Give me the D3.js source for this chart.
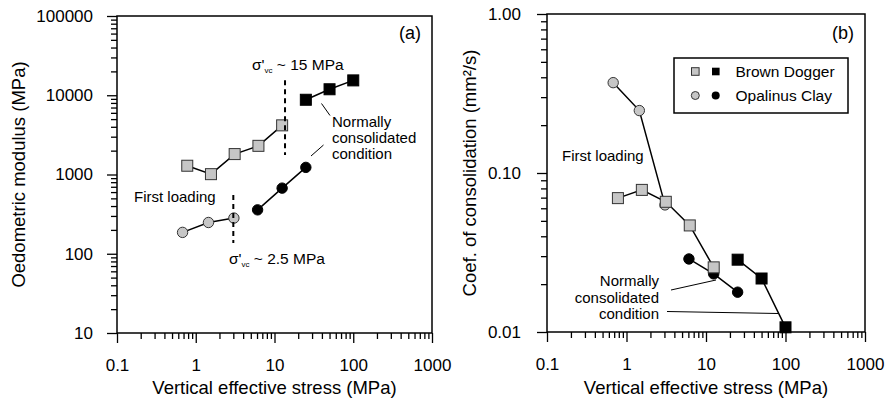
<!DOCTYPE html>
<html>
<head>
<meta charset="utf-8">
<script src="https://cdn.jsdelivr.net/npm/d3@7"></script>
<style>
  html, body { margin: 0; padding: 0; background: #fff; }
  svg { display: block; font-family: "Liberation Sans", Arial, sans-serif; }
</style>
</head>
<body>
<svg id="chart" width="893" height="402"></svg>
<script>
// ---------------- data ----------------
const xTickLabels = ["0.1", "1", "10", "100", "1000"];
const xTickValues = [0.1, 1, 10, 100, 1000];
const yTickLabelsA = ["10", "100", "1000", "10000", "100000"];
const yTickValuesA = [10, 100, 1000, 10000, 100000];
const yTickLabelsB = ["0.01", "0.10", "1.00"];
const yTickValuesB = [0.01, 0.1, 1];

const stressBDFirst = [0.78, 1.56, 3.12, 6.25, 12.5];
const stressBDNC = [25, 50, 100];
const stressOPAFirst = [0.68, 1.45, 3.05];
const stressOPANC = [6.1, 12.5, 25];

const modulusBDFirst = [1290, 1010, 1810, 2300, 4170];
const modulusBDNC = [8770, 11900, 15400];
const modulusOPAFirst = [186, 248, 282];
const modulusOPANC = [358, 673, 1230];

const cvBDFirst = [0.0695, 0.0783, 0.0659, 0.0468, 0.0255];
const cvBDNC = [0.0285, 0.0217, 0.0107];
const cvOPAFirst = [0.37, 0.247, 0.063];
const cvOPANC = [0.0288, 0.0232, 0.0178];

const legendLabels = ["Brown Dogger", "Opalinus Clay"];

// ---------------- drawing ----------------
const svg = d3.select("#chart");
const GREY = "#c6c6c6";

function minors(lo, hi) {
  const out = [];
  for (let e = Math.log10(lo); e < Math.log10(hi); e++) {
    for (let k = 2; k <= 9; k++) out.push(k * Math.pow(10, e));
  }
  return out;
}

function panel(cfg) {
  const g = svg.append("g");
  const x = d3.scaleLog().domain([0.1, 1000]).range([cfg.left, cfg.right]);
  const y = d3.scaleLog().domain(cfg.yDomain).range([cfg.bottom, cfg.top]);

  // x axis
  const xa = g.append("g").attr("transform", `translate(0,${cfg.bottom})`)
    .call(d3.axisBottom(x).tickValues(xTickValues.concat(minors(0.1, 1000)))
      .tickSize(10).tickPadding(0)
      .tickFormat(d => { const i = xTickValues.indexOf(d); return i >= 0 ? xTickLabels[i] : ""; }));
  xa.select(".domain").remove();
  xa.selectAll(".tick").filter(d => xTickValues.indexOf(d) < 0).select("line").attr("y2", 6);
  xa.selectAll(".tick line").attr("stroke", "#000").attr("stroke-width", 1.3);
  xa.selectAll(".tick text").attr("y", 26).attr("dy", "0.71em")
    .attr("font-size", 17).attr("fill", "#000").attr("font-family", "Liberation Sans, Arial, sans-serif");

  // y axis
  const ya = g.append("g").attr("transform", `translate(${cfg.left},0)`)
    .call(d3.axisLeft(y).tickValues(cfg.yTicks.concat(minors(cfg.yDomain[0], cfg.yDomain[1])))
      .tickSize(10).tickPadding(0)
      .tickFormat(d => { const i = cfg.yTicks.indexOf(d); return i >= 0 ? cfg.yLabels[i] : ""; }));
  ya.select(".domain").remove();
  ya.selectAll(".tick").filter(d => cfg.yTicks.indexOf(d) < 0).select("line").attr("x2", -6);
  ya.selectAll(".tick line").attr("stroke", "#000").attr("stroke-width", 1.3);
  ya.selectAll(".tick text").attr("x", -cfg.labelGap)
    .attr("font-size", 17).attr("fill", "#000").attr("font-family", "Liberation Sans, Arial, sans-serif");

  // frame
  g.append("rect").attr("x", cfg.left).attr("y", cfg.top)
    .attr("width", cfg.right - cfg.left).attr("height", cfg.bottom - cfg.top)
    .attr("fill", "none").attr("stroke", "#000").attr("stroke-width", 1.5);

  // titles
  g.append("text").attr("x", (cfg.left + cfg.right) / 2).attr("y", 394)
    .attr("text-anchor", "middle").attr("font-size", 18.5).text("Vertical effective stress (MPa)");
  g.append("text")
    .attr("transform", `translate(${cfg.yTitleX},${(cfg.top + cfg.bottom) / 2}) rotate(-90)`)
    .attr("text-anchor", "middle").attr("dy", "0.35em").attr("font-size", 18.5).text(cfg.yTitle);
  g.append("text").attr("x", cfg.tagX).attr("y", 33).attr("dy", "0.35em")
    .attr("text-anchor", "middle").attr("font-size", 18).text(cfg.tag);

  const line = d3.line().x(d => x(d[0])).y(d => y(d[1]));
  function series(xs, ys, shape, fill) {
    const pts = xs.map((v, i) => [v, ys[i]]);
    g.append("path").attr("d", line(pts)).attr("fill", "none")
      .attr("stroke", "#000").attr("stroke-width", 1.5);
    const m = g.append("g");
    if (shape === "square") {
      m.selectAll("rect").data(pts).join("rect")
        .attr("x", d => x(d[0]) - 5.5).attr("y", d => y(d[1]) - 5.5)
        .attr("width", 11).attr("height", 11)
        .attr("fill", fill).attr("stroke", fill === "#000" ? "#000" : "#333").attr("stroke-width", 1);
    } else {
      m.selectAll("circle").data(pts).join("circle")
        .attr("cx", d => x(d[0])).attr("cy", d => y(d[1])).attr("r", 5.2)
        .attr("fill", fill).attr("stroke", fill === "#000" ? "#000" : "#333").attr("stroke-width", 1);
    }
  }
  return { g, x, y, series };
}

// ---------- panel (a) ----------
const A = panel({
  left: 117, right: 432, top: 16, bottom: 333,
  yDomain: [10, 100000], yTicks: yTickValuesA, yLabels: yTickLabelsA,
  labelGap: 24, yTitleX: 19, yTitle: "Oedometric modulus (MPa)", tag: "(a)", tagX: 410
});
A.series(stressOPAFirst, modulusOPAFirst, "circle", GREY);
A.series(stressOPANC, modulusOPANC, "circle", "#000");
A.series(stressBDFirst, modulusBDFirst, "square", GREY);
A.series(stressBDNC, modulusBDNC, "square", "#000");

// dashed preconsolidation markers
A.g.append("line").attr("x1", A.x(13.6)).attr("x2", A.x(13.6))
  .attr("y1", A.y(15500)).attr("y2", A.y(1760))
  .attr("stroke", "#000").attr("stroke-width", 2).attr("stroke-dasharray", "5,4");
A.g.append("line").attr("x1", A.x(3.0)).attr("x2", A.x(3.0))
  .attr("y1", A.y(550)).attr("y2", A.y(137))
  .attr("stroke", "#000").attr("stroke-width", 2).attr("stroke-dasharray", "5,4");

function sigmaLabel(g, x0, yc, rest) {
  const t = g.append("text").attr("x", x0).attr("y", yc).attr("dy", "0.35em").attr("font-size", 15.5);
  t.append("tspan").text("σ'");
  t.append("tspan").attr("font-size", 8).attr("dy", "3").text("vc");
  t.append("tspan").attr("dy", "-3").text(rest);
}
sigmaLabel(A.g, 252, 65, " ~ 15 MPa");
sigmaLabel(A.g, 229, 259, " ~ 2.5 MPa");

A.g.append("text").attr("x", 134).attr("y", 197).attr("dy", "0.35em")
  .attr("font-size", 15).text("First loading");
["Normally", "consolidated", "condition"].forEach((s, i) => {
  A.g.append("text").attr("x", 332).attr("y", 122 + i * 16).attr("dy", "0.35em")
    .attr("font-size", 15).text(s);
});
A.g.append("line").attr("x1", 321.5).attr("y1", 103.5).attr("x2", 330).attr("y2", 115.5)
  .attr("stroke", "#000").attr("stroke-width", 1);
A.g.append("line").attr("x1", 311).attr("y1", 156).attr("x2", 323.5).attr("y2", 145)
  .attr("stroke", "#000").attr("stroke-width", 1);

// ---------- panel (b) ----------
const B = panel({
  left: 547, right: 865, top: 14, bottom: 332,
  yDomain: [0.01, 1], yTicks: yTickValuesB, yLabels: yTickLabelsB,
  labelGap: 26, yTitleX: 470, yTitle: "Coef. of consolidation (mm²/s)", tag: "(b)", tagX: 843
});
B.series(stressOPAFirst, cvOPAFirst, "circle", GREY);
B.series(stressOPANC, cvOPANC, "circle", "#000");
B.series(stressBDFirst, cvBDFirst, "square", GREY);
B.series(stressBDNC, cvBDNC, "square", "#000");

B.g.append("text").attr("x", 562).attr("y", 156).attr("dy", "0.35em")
  .attr("font-size", 15).text("First loading");
["Normally", "consolidated", "condition"].forEach((s, i) => {
  B.g.append("text").attr("x", 659).attr("y", 281 + i * 16.3).attr("dy", "0.35em")
    .attr("text-anchor", "end").attr("font-size", 15).text(s);
});
B.g.append("line").attr("x1", 671).attr("y1", 290).attr("x2", 716).attr("y2", 280)
  .attr("stroke", "#000").attr("stroke-width", 1);
B.g.append("line").attr("x1", 667).attr("y1", 311.5).attr("x2", 778).attr("y2", 313.5)
  .attr("stroke", "#000").attr("stroke-width", 1);

// legend
const lg = B.g.append("g");
lg.append("rect").attr("x", 674).attr("y", 58).attr("width", 174).attr("height", 55)
  .attr("fill", "#fff").attr("stroke", "#000").attr("stroke-width", 1.5);
const rowY = [71.5, 95.5];
lg.append("rect").attr("x", 691.5).attr("y", rowY[0] - 3.8).attr("width", 7.6).attr("height", 7.6)
  .attr("fill", GREY).attr("stroke", "#333");
lg.append("rect").attr("x", 712).attr("y", rowY[0] - 3.8).attr("width", 7.6).attr("height", 7.6)
  .attr("fill", "#000");
lg.append("circle").attr("cx", 695.3).attr("cy", rowY[1]).attr("r", 4)
  .attr("fill", GREY).attr("stroke", "#333");
lg.append("circle").attr("cx", 715.7).attr("cy", rowY[1]).attr("r", 4)
  .attr("fill", "#000");
legendLabels.forEach((s, i) => {
  lg.append("text").attr("x", 735.5).attr("y", rowY[i]).attr("dy", "0.35em")
    .attr("font-size", 15.5).text(s);
});
</script>
</body>
</html>
